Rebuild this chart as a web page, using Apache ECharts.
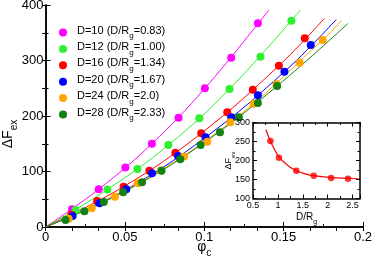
<!DOCTYPE html>
<html><head><meta charset="utf-8">
<script src="https://cdn.jsdelivr.net/npm/echarts@6/dist/echarts.min.js"></script>
<style>html,body{margin:0;padding:0;background:#fff}#c{width:374px;height:261px}</style>
</head><body><div id="c"></div>
<script>
const seriesNames = ['D=10 (D/Rg=0.83)','D=12 (D/Rg=1.00)','D=16 (D/Rg=1.34)','D=20 (D/Rg=1.67)','D=24 (D/Rg=2.0)','D=28 (D/Rg=2.33)'];
const colors = ['#ff00ff','#2ef02e','#ff0000','#0000ff','#ffa500','#128212'];

const magX = [0.0167,0.0335,0.0503,0.067,0.0838,0.1004,0.117,0.1338];
const magY = [32,68,107,150,197,250,305,367];
const grnX = [0.0189,0.039,0.0579,0.0774,0.0969,0.1159,0.1354,0.1549];
const grnY = [30.6,67.6,104.5,147.7,195.9,248.6,306.8,371.7];
const redX = [0.0163,0.0325,0.0492,0.0654,0.0818,0.0981,0.1145,0.1306,0.147,0.1633];
const redY = [22,46.8,72.6,101.4,133.9,168.8,206.7,247.4,290.6,340];
const bluX = [0.0171,0.034,0.0509,0.0671,0.0835,0.1008,0.117,0.1338,0.1505,0.1671];
const bluY = [20,43,67.9,96.8,128,161.6,197.7,237.3,279.8,328];
const orgX = [0.0146,0.0291,0.0437,0.0582,0.0728,0.0873,0.1019,0.1164,0.131,0.1455,0.1601,0.1746];
const orgY = [15,33.7,54.6,78.7,102,127,153.7,188.6,222.2,257,296,337];
const dgrX = [0.0126,0.0245,0.0367,0.0489,0.0608,0.0731,0.0849,0.0977,0.1099,0.1218,0.1338,0.1459];
const dgrY = [12.6,28.3,45,62.5,80.5,101.4,122,147.7,170.6,197.7,223.4,254];

const magFitX = [0,0.0335,0.067,0.1004,0.1407];
const magFitY = [0,68,150,250,391];
const grnFitX = [0,0.039,0.0774,0.1159,0.1606];
const grnFitY = [0,67.6,147.7,248.6,391];
const redFitX = [0,0.0492,0.0981,0.147,0.1757];
const redFitY = [0,72.6,168.8,290.6,376];
const bluFitX = [0,0.0509,0.1008,0.1505,0.1832];
const bluFitY = [0,67.9,161.6,279.8,374];
const orgFitX = [0,0.0582,0.1164,0.1746,0.1864];
const orgFitY = [0,78.7,188.6,337,372];
const dgrFitX = [0,0.0489,0.0977,0.1459,0.1906];
const dgrFitY = [0,62.5,147.7,254,367];

const insetX = [0.85,1.02,1.37,1.72,2.07,2.41];
const insetY = [251,207,173,160,154,152];
const insetFitX = [0.76,0.85,1.02,1.2,1.37,1.55,1.72,2.07,2.41,2.62];
const insetFitY = [281,251,210,187,173,165,160,155,153,152];

const mainXTicks = [0,0.2,0.05];
const mainYTicks = [0,400,100];
const insetXTicks = [0.5,2.65,0.5];
const insetYTicks = [100,300,50];

const pts = [[magX,magY],[grnX,grnY],[redX,redY],[bluX,bluY],[orgX,orgY],[dgrX,dgrY]];
const fits = [[magFitX,magFitY],[grnFitX,grnFitY],[redFitX,redFitY],[bluFitX,bluFitY],[orgFitX,orgFitY],[dgrFitX,dgrFitY]];
const zip = (a,b) => a.map((v,i)=>[v,b[i]]);

const FONT = 'Liberation Sans, Arial, sans-serif';
const sub = (fs, lh) => ({t:{fontSize:fs,fontFamily:FONT,color:'#000',lineHeight:lh,verticalAlign:'top'},
  s:{fontSize:Math.round(fs*0.7),fontFamily:FONT,color:'#000',verticalAlign:'bottom'}});

const axisLine = {show:true,lineStyle:{color:'#000',width:1.5}};
function ax(extra){ return Object.assign({type:'value',splitLine:{show:false},axisLine:axisLine,nameMoveOverlap:false}, extra); }

const series = [];
fits.forEach((f,i)=>series.push({type:'line',xAxisIndex:0,yAxisIndex:0,data:zip(f[0],f[1]),smooth:0.4,symbol:'none',
  lineStyle:{color:colors[i],width:1},z:3,silent:true}));
pts.forEach((p,i)=>series.push({type:'scatter',name:seriesNames[i],xAxisIndex:0,yAxisIndex:0,data:zip(p[0],p[1]),
  symbolSize:8,itemStyle:{color:colors[i],opacity:1},z:4}));
series.push({type:'line',xAxisIndex:2,yAxisIndex:2,data:zip(insetFitX,insetFitY),smooth:0.4,symbol:'none',lineStyle:{color:'#ff0000',width:1.2},z:22});
series.push({type:'scatter',xAxisIndex:2,yAxisIndex:2,data:zip(insetX,insetY),symbolSize:6.5,itemStyle:{color:'#ff0000'},z:23});

const option = {
  animation:false,
  backgroundColor:'#fff',
  grid:[
    {left:45.5,right:11,top:5,bottom:34,containLabel:false,outerBoundsMode:'none'},
    {left:253,right:14,top:122.5,bottom:62.5,containLabel:false,outerBoundsMode:'none',show:true,backgroundColor:'#fff',borderWidth:0,z:20}
  ],
  legend:{orient:'vertical',left:54,top:20,itemWidth:18,itemHeight:8,itemGap:1.4,icon:'circle',
    data:seriesNames,
    formatter:n=>{const k=n.split('Rg');return '{t|'+k[0]+'R}{s|g}{t|'+k[1]+'}';},
    textStyle:{rich:sub(11,15)}},
  xAxis:[
    ax({gridIndex:0,position:'bottom',min:mainXTicks[0],max:mainXTicks[1],interval:mainXTicks[2],
      axisTick:{inside:true,length:5,lineStyle:{color:'#000'}},minorTick:{show:true,splitNumber:2,length:3,lineStyle:{color:'#000'}},
      axisLabel:{fontSize:13,fontFamily:FONT,color:'#000',margin:4},
      name:'{t|φ}{s|c}',nameLocation:'middle',nameGap:13,nameTextStyle:{rich:sub(14,18)}}),
    ax({gridIndex:0,position:'top',min:0,max:0.2,interval:0.2/12,
      axisTick:{inside:true,length:4,lineStyle:{color:'#000'}},axisLabel:{show:false}}),
    ax({gridIndex:1,position:'bottom',min:insetXTicks[0],max:insetXTicks[1],interval:insetXTicks[2],z:21,
      axisTick:{inside:true,length:4,lineStyle:{color:'#000'}},minorTick:{show:true,splitNumber:2,length:2.5,lineStyle:{color:'#000'}},
      axisLabel:{fontSize:9,fontFamily:FONT,color:'#000',margin:3,showMaxLabel:false},
      name:'{t|D/R}{s|g}',nameLocation:'middle',nameGap:14,nameTextStyle:{rich:sub(10,13)}}),
    ax({gridIndex:1,position:'top',min:insetXTicks[0],max:insetXTicks[1],interval:insetXTicks[2],z:21,
      axisTick:{inside:true,length:4,lineStyle:{color:'#000'}},minorTick:{show:true,splitNumber:2,length:2.5,lineStyle:{color:'#000'}},
      axisLabel:{show:false}})
  ],
  yAxis:[
    ax({gridIndex:0,position:'left',min:mainYTicks[0],max:mainYTicks[1],interval:mainYTicks[2],
      axisTick:{inside:true,length:5,lineStyle:{color:'#000'}},minorTick:{show:true,splitNumber:2,length:3,lineStyle:{color:'#000'}},
      axisLabel:{fontSize:13,fontFamily:FONT,color:'#000',margin:2},
      name:'{t|ΔF}{s|ex}',nameLocation:'middle',nameGap:26,nameTextStyle:{rich:sub(14,18),padding:[0,36,0,0]}}),
    ax({gridIndex:0,position:'right',min:0,max:400,interval:50,
      axisTick:{inside:true,length:3.5,lineStyle:{color:'#000'}},axisLabel:{show:false}}),
    ax({gridIndex:1,position:'left',min:insetYTicks[0],max:insetYTicks[1],interval:insetYTicks[2],z:21,
      axisTick:{inside:true,length:4,lineStyle:{color:'#000'}},minorTick:{show:true,splitNumber:2,length:2.5,lineStyle:{color:'#000'}},
      axisLabel:{fontSize:9,fontFamily:FONT,color:'#000',margin:3},
      name:'{t|ΔF}{s|ex}',nameLocation:'middle',nameGap:17,nameTextStyle:{rich:sub(9,12)}}),
    ax({gridIndex:1,position:'right',min:insetYTicks[0],max:insetYTicks[1],interval:insetYTicks[2],z:21,
      axisTick:{inside:true,length:4,lineStyle:{color:'#000'}},minorTick:{show:true,splitNumber:2,length:2.5,lineStyle:{color:'#000'}},
      axisLabel:{show:false}})
  ],
  series:series
};
const chart = echarts.init(document.getElementById('c'),null,{renderer:'canvas'});
chart.setOption(option);
</script></body></html>
